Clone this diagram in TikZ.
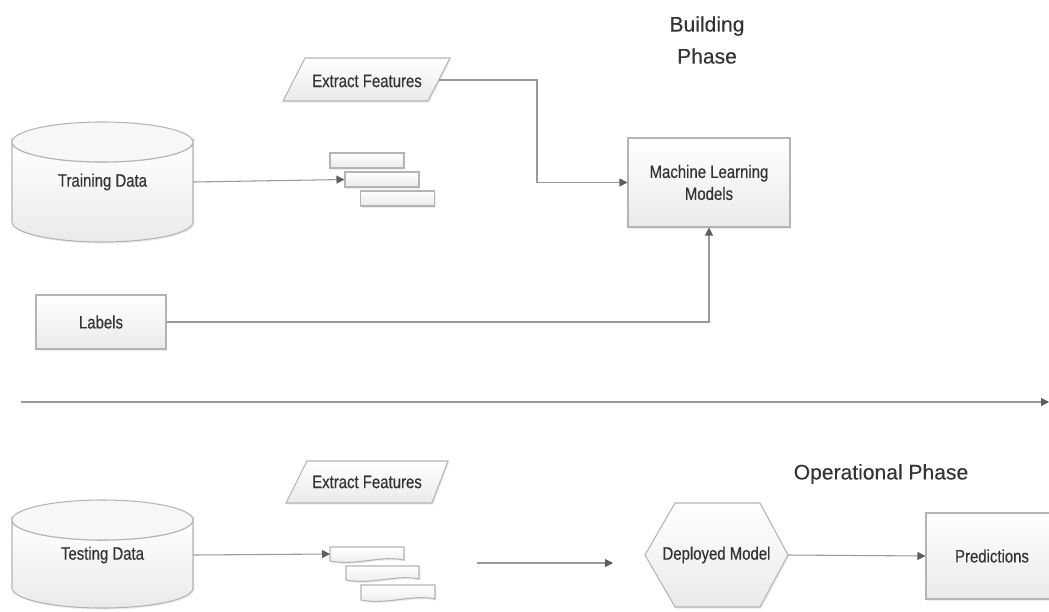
\documentclass[tikz,border=0pt]{standalone}
\usepackage{fontspec}
\setmainfont{Liberation Sans}[FakeStretch=0.83, FakeBold=0.35]
\newfontfamily\headfont{Liberation Sans}[FakeBold=0.2]
\usetikzlibrary{arrows.meta,shadows}

\definecolor{ink}{HTML}{333333}
\definecolor{edge}{HTML}{B4B4B4}
\definecolor{wire}{HTML}{9A9A9A}
\definecolor{tipcol}{HTML}{5E5E5E}
\definecolor{shadeB}{HTML}{EAEAEA}

\tikzset{
  softshadow/.style={drop shadow={shadow xshift=1pt, shadow yshift=-1.2pt, opacity=0.15}},
  shapefill/.style={top color=white, bottom color=shadeB, draw=edge, line width=0.8pt},
  box/.style={shapefill, softshadow, rectangle, inner sep=0pt,
    font=\fontsize{13.5}{16.5}\selectfont, text=ink, align=center},
  lbl/.style={inner sep=0pt, font=\fontsize{13.5}{16.5}\selectfont, text=ink, align=center},
  titletext/.style={inner sep=0pt, font=\headfont\fontsize{15.8}{24}\selectfont, text=ink, align=center},
  wireline/.style={draw=wire, line width=0.8pt, -{Triangle[length=6pt,width=6pt,color=tipcol]}},
}

% database drum: centre x, top-ellipse centre y, bottom-ellipse centre y
\newcommand\drum[3]{%
  \path[shapefill, softshadow] (#1-90.5,#2) -- (#1-90.5,#3)
     arc[start angle=180, end angle=0, x radius=90.5, y radius=20]
     -- (#1+90.5,#2)
     arc[start angle=0, end angle=180, x radius=90.5, y radius=20] -- cycle;
  \path[draw=edge, line width=0.8pt, fill=white!97!black] (#1,#2) ellipse[x radius=90.5, y radius=20];
}
% feature bar with a wavy lower edge: x1, y1, x2, y2
\newcommand\docbar[4]{%
  \path[shapefill, softshadow] (#1,#2) -- (#3,#2) -- (#3,#4-1)
     .. controls (#3-22,#4-6) and (#1+26,#4+5) .. (#1,#4) -- cycle;
}

\begin{document}
\begin{tikzpicture}[x=0.75pt, y=-0.75pt]
\useasboundingbox (0,0) rectangle (1049,611);
\clip (0,0) rectangle (1049,611);

% ---------------- building phase ----------------
\node[titletext] (build) at (707,40) {Building\\Phase};

\drum{102.5}{142}{222}
\node[lbl, minimum width=135.75pt] (train) at (102.5,182) {Training Data};

\path[shapefill, softshadow] (305,58) -- (450,58) -- (428,101) -- (283,101) -- cycle;
\node[lbl] (ef1) at (367,81) {Extract Features};
\coordinate (ef1r) at (439,80);
\coordinate (bend1) at (537,80);

\node[box, minimum width=55.5pt, minimum height=11.25pt] (f1) at (367,160.5) {};
\node[box, minimum width=55.5pt, minimum height=11.25pt] (f2) at (382,179.5) {};
\node[box, minimum width=55.5pt, minimum height=11.25pt] (f3) at (397.5,198.5) {};

\node[box, minimum width=121.5pt, minimum height=66.75pt] (ml) at (709,182.5) {Machine Learning\\Models};
\node[box, minimum width=97.5pt, minimum height=40.5pt] (lab) at (101,322) {Labels};

\draw[wireline] (train.east) -- (f2.west);
\draw[wireline] (ef1r) -- (bend1) |- (ml.west);
\draw[wireline] (lab.east) -| (ml.south);

% ---------------- time line ----------------
\coordinate (tl0) at (21,402);
\coordinate (tl1) at (1049,402);
\draw[wireline] (tl0) -- (tl1);

% ---------------- operational phase ----------------
\node[titletext] (oper) at (881,474) {Operational Phase};

\drum{102.5}{520}{588}
\node[lbl, minimum width=135.75pt] (test) at (102.5,555) {Testing Data};

\path[shapefill, softshadow] (307,461) -- (448,461) -- (432,503) -- (286,503) -- cycle;
\node[lbl] (ef2) at (367,482) {Extract Features};

\docbar{330}{547}{404}{561}
\docbar{346}{566}{419}{580}
\docbar{361}{585}{435}{600}
\coordinate (d1w) at (330,554);

\coordinate (ff0) at (477,563);
\coordinate (ff1) at (613,563);

\path[shapefill, softshadow] (645,555) -- (675,503) -- (760,503) -- (788,555) -- (760,607) -- (675,607) -- cycle;
\node[lbl, minimum width=107.25pt] (dep) at (716.5,555) {Deployed Model};

\node[box, minimum width=99pt, minimum height=64.5pt] (pred) at (992,556) {Predictions};

\draw[wireline] (test.east) -- (d1w);
\draw[wireline] (ff0) -- (ff1);
\draw[wireline] (dep.east) -- (pred.west);
\end{tikzpicture}
\end{document}
